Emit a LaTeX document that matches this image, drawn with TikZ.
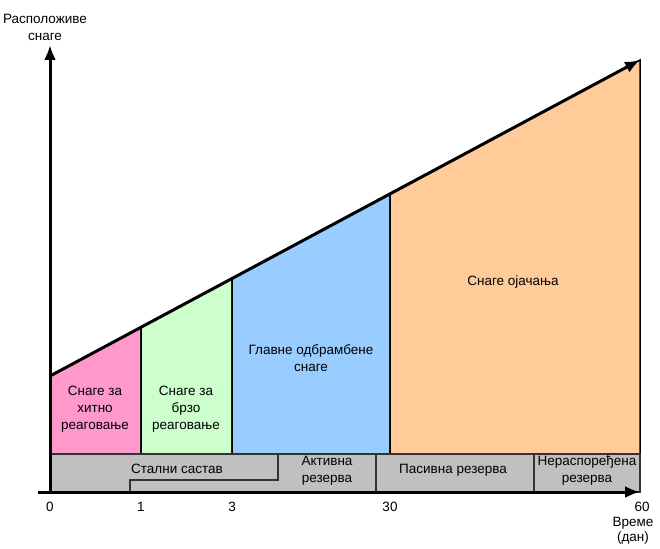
\documentclass[tikz,border=0pt]{standalone}
\usepackage{fontspec}
\setmainfont{Liberation Sans}
\usetikzlibrary{arrows.meta}
\definecolor{pinkf}{HTML}{FF99CC}
\definecolor{greenf}{HTML}{CCFFCC}
\definecolor{bluef}{HTML}{99CCFF}
\definecolor{orangef}{HTML}{FFCC99}
\definecolor{grayf}{HTML}{C0C0C0}
\begin{document}
\begin{tikzpicture}[x=1pt,y=-1pt,
  lbl/.style={font=\fontsize{13.5}{17}\selectfont, align=center, inner sep=0pt},
  region/.style={draw=black, line width=1.5pt},
  band/.style={draw=black!80, line width=1.2pt},
  axis/.style={line width=3pt, -{Latex[length=15pt,width=12pt]}}]
\useasboundingbox (0,0) rectangle (660,548);
% key coordinates
\coordinate (O) at (50,492);
\coordinate (yl) at (50,454);
\coordinate (ystart) at (50,376);
\coordinate (a1) at (141,327.3);
\coordinate (a3) at (232,278.5);
\coordinate (a30) at (390,193.5);
\coordinate (a60) at (640,60);
\coordinate (b1) at (141,454);
\coordinate (b3) at (232,454);
\coordinate (b30) at (390,454);
\coordinate (b60) at (640,454);
% coloured regions
\path[region, fill=pinkf] (yl) -- (ystart) -- (a1) -- (b1) -- cycle;
\path[region, fill=greenf] (b1) -- (a1) -- (a3) -- (b3) -- cycle;
\path[region, fill=bluef] (b3) -- (a3) -- (a30) -- (b30) -- cycle;
\path[region, fill=orangef] (b30) -- (a30) -- (a60) -- (b60) -- cycle;
% grey band
\coordinate (g1) at (640,492);
\path[band, fill=grayf] (yl) rectangle (g1);
\coordinate (s1) at (278,454);
\coordinate (s2) at (278,480);
\coordinate (s3) at (130,480);
\coordinate (s4) at (130,492);
\draw[band] (s1) -- (s2) -- (s3) -- (s4);
\coordinate (d1t) at (376,454);
\coordinate (d1b) at (376,492);
\coordinate (d2t) at (534,454);
\coordinate (d2b) at (534,492);
\draw[band] (d1t) -- (d1b);
\draw[band] (d2t) -- (d2b);
% axes
\coordinate (xs) at (38,492);
\coordinate (xe) at (640,492);
\coordinate (ye) at (50,45);
\draw[axis] (xs) -- (xe);
\draw[axis] (O) -- (ye);
\draw[axis] (ystart) -- (a60);
% region labels
\node[lbl] (t1) at (95,409) {Снаге за\\хитно\\реаговање};
\node[lbl] (t2) at (186,409) {Снаге за\\брзо\\реаговање};
\node[lbl] (t3) at (311,358) {Главне одбрамбене\\снаге};
\node[lbl] (t4) at (513,282) {Снаге ојачања};
% band labels
\node[lbl] (r1) at (177,469) {Стални састав};
\node[lbl] (r2) at (327,471) {Активна\\резерва};
\node[lbl] (r3) at (453,470) {Пасивна резерва};
\node[lbl] (r4) at (587,471) {Нераспоређена\\резерва};
% ticks
\node[lbl] (k0) at (50,507) {0};
\node[lbl] (k1) at (141,507) {1};
\node[lbl] (k3) at (232,507) {3};
\node[lbl] (k30) at (390,507) {30};
\node[lbl] (k60) at (642,507) {60};
% axis labels
\node[lbl, font=\fontsize{13.5}{15}\selectfont] (xl) at (633,531) {Време\\(дан)};
\node[lbl] (ylb) at (45,27) {Расположиве\\снаге};
\end{tikzpicture}
\end{document}
